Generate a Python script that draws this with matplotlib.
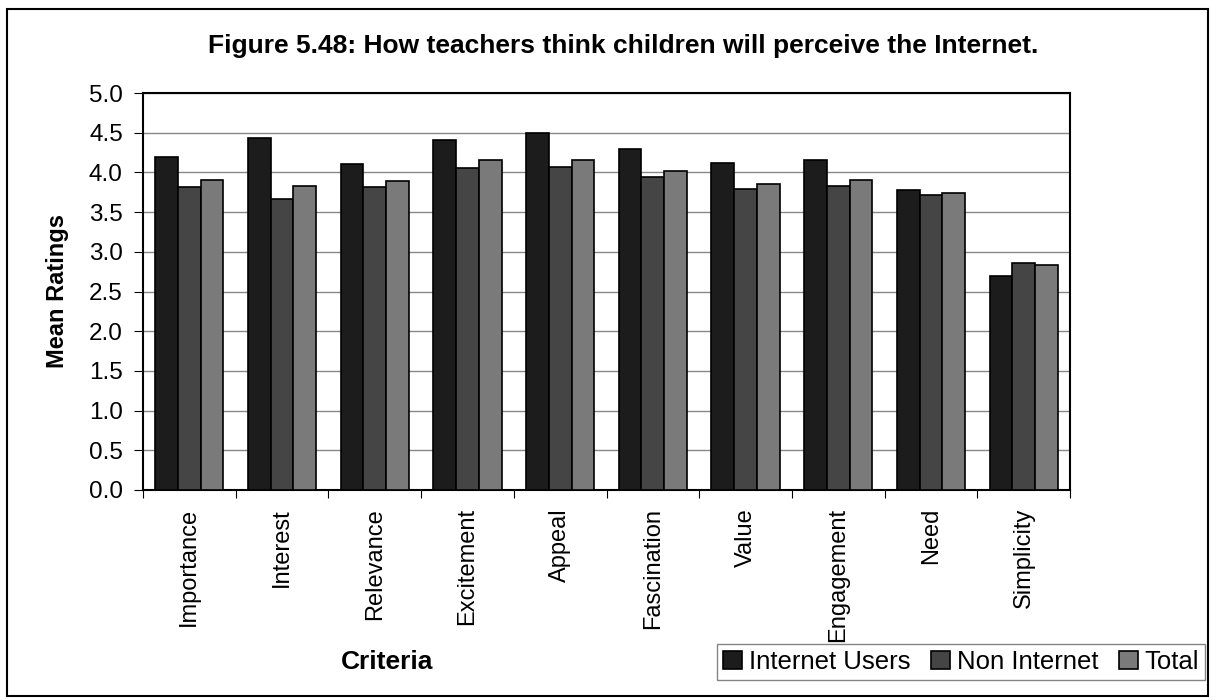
import matplotlib.pyplot as plt
import numpy as np
from matplotlib.patches import Rectangle

criteria = ['Importance', 'Interest', 'Relevance', 'Excitement', 'Appeal',
            'Fascination', 'Value', 'Engagement', 'Need', 'Simplicity']
internet_users = [4.20, 4.43, 4.11, 4.41, 4.50, 4.30, 4.12, 4.16, 3.78, 2.70]
non_internet = [3.82, 3.66, 3.81, 4.06, 4.07, 3.94, 3.79, 3.83, 3.72, 2.86]
total = [3.90, 3.83, 3.89, 4.15, 4.16, 4.02, 3.86, 3.90, 3.74, 2.83]
series_names = ['Internet Users', 'Non Internet', 'Total']
colors = ['#1c1c1c', '#454545', '#7a7a7a']

plt.rcParams['font.family'] = ['Liberation Sans', 'DejaVu Sans']

fig = plt.figure(figsize=(12.16, 7), dpi=100)
fig.patches.append(Rectangle((7 / 1216, 4 / 700), 1201 / 1216, 687 / 700,
                             transform=fig.transFigure, fill=False,
                             edgecolor='black', linewidth=1.5))
ax = fig.add_axes([143 / 1216, 1 - 490 / 700, 927 / 1216, 397 / 700])

x = np.arange(len(criteria))
w = 0.245
for i, (vals, name) in enumerate(zip([internet_users, non_internet, total], series_names)):
    ax.bar(x + (i - 1) * w, vals, width=w, color=colors[i], edgecolor='black',
           linewidth=1.2, label=name, zorder=3)

ax.set_xlim(-0.5, len(criteria) - 0.5)
ax.set_ylim(0, 5)
yt = np.arange(0, 5.01, 0.5)
ax.set_yticks(yt)
ax.set_yticklabels(['%.1f' % v for v in yt], fontsize=17.5)
ax.yaxis.grid(True, color='#888888', linewidth=1, zorder=0)
ax.set_xticks(np.arange(len(criteria) + 1) - 0.5)
ax.set_xticklabels([])
ax.set_xticks(x, minor=True)
ax.set_xticklabels(criteria, minor=True, rotation=90, fontsize=17)
ax.tick_params(axis='x', which='minor', length=0, pad=13)
ax.tick_params(axis='x', which='major', length=6, direction='out')
ax.tick_params(axis='y', length=6.5, direction='out', pad=8)
for s in ax.spines.values():
    s.set_linewidth(1.5)

ax.set_ylabel('Mean Ratings', fontsize=17, fontweight='bold', labelpad=14)
fig.text(387 / 1216, 1 - 662 / 700, 'Criteria', fontsize=19, fontweight='bold',
         ha='center', va='center')
fig.text(623 / 1216, 1 - 46 / 700,
         'Figure 5.48: How teachers think children will perceive the Internet.',
         fontsize=19, fontweight='bold', ha='center', va='center')

leg = fig.legend(loc='center', bbox_to_anchor=(961 / 1216, 1 - 662 / 700), ncol=3,
                 fontsize=18.5, frameon=True, fancybox=False, edgecolor='#666666',
                 handlelength=0.75, handleheight=0.75, handletextpad=0.25,
                 columnspacing=0.8, borderpad=0.25)

fig.savefig('out.png', dpi=100)
